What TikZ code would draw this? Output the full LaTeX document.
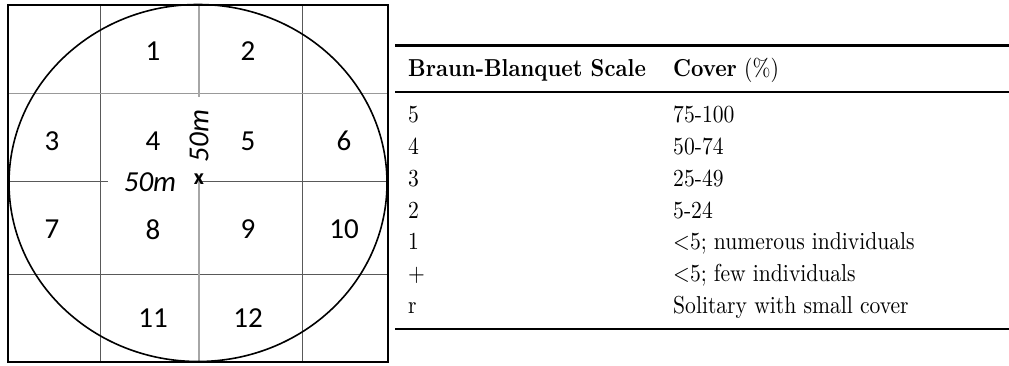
\documentclass[tikz,border=0pt]{standalone}
\usepackage{fontspec}
\newfontfamily\calfont{Carlito}
\usepackage{graphicx}
\newcommand{\tb}[1]{\scalebox{2.16}[2.45]{#1}}
\begin{document}
\begin{tikzpicture}[x=1pt,y=1pt,
  gridline/.style={draw=black!65, line width=0.8pt},
  lightline/.style={draw=black!40, line width=0.9pt},
  midline/.style={draw=black!35, line width=1.6pt},
  num/.style={font=\calfont\fontsize{29}{32}\selectfont, inner sep=0pt},
  dist/.style={font=\calfont\itshape\fontsize{29}{32}\selectfont, inner sep=1pt},
  tab/.style={anchor=base west, inner sep=0pt, font=\fontsize{10}{12}\selectfont},
  heavyrule/.style={line width=2.8pt},
  lightrule/.style={line width=1.2pt},
  botrule/.style={line width=1.8pt}]
\useasboundingbox (0,0) rectangle (1009,365);

% ---------- plot diagram ----------
\draw[gridline] (100,3) -- (100,360);
\draw[gridline] (302,3) -- (302,360);
\draw[lightline] (8,272) -- (388,272);
\draw[gridline] (8,91) -- (388,91);
\draw[gridline] (8,184) -- (108,184);
\draw[gridline] (199,184) -- (388,184);
\draw[midline] (199,360) -- (199,268);
\draw[midline] (199,190) -- (199,3);

\draw[line width=1.6pt] (198,182) ellipse [x radius=189, y radius=178.5];

\draw[line width=2.2pt] (8,3) rectangle (388,360);

\node[num] (n1)  at (153,314) {1};
\node[num] (n2)  at (248,314) {2};
\node[num] (n3)  at (52,224)  {3};
\node[num] (n4)  at (153,224) {4};
\node[num] (n5)  at (248,224) {5};
\node[num] (n6)  at (344,224) {6};
\node[num] (n7)  at (52,135.5)  {7};
\node[num] (n8)  at (153,135.5) {8};
\node[num] (n9)  at (248,135.5) {9};
\node[num] (n10) at (344,135.5) {10};
\node[num] (n11) at (153,47)  {11};
\node[num] (n12) at (248,47)  {12};

\node[dist] (dh) at (150,183) {50m};
\node[dist, rotate=90] (dv) at (199,229) {50m};
\node[font=\calfont\bfseries\fontsize{22}{24}\selectfont, inner sep=0pt] (ctr) at (199,186) {x};

% ---------- table ----------
\draw[heavyrule] (395,319.5) -- (1009,319.5);
\draw[lightrule] (395,273) -- (1009,273);
\draw[botrule] (395,36) -- (1009,36);

\node[tab] (h1) at (408,288) {\tb{\bfseries Braun-Blanquet Scale}};
\node[tab] (h2) at (673,288) {\tb{\textbf{Cover} (\%)}};

\node[tab] (a1) at (408,242)   {\tb{5}};
\node[tab] (b1) at (673,242)   {\tb{75-100}};
\node[tab] (a2) at (408,210.3) {\tb{4}};
\node[tab] (b2) at (673,210.3) {\tb{50-74}};
\node[tab] (a3) at (408,178.6) {\tb{3}};
\node[tab] (b3) at (673,178.6) {\tb{25-49}};
\node[tab] (a4) at (408,147)   {\tb{2}};
\node[tab] (b4) at (673,147)   {\tb{5-24}};
\node[tab] (a5) at (408,115.2) {\tb{1}};
\node[tab] (b5) at (673,115.2) {\tb{$<$5; numerous individuals}};
\node[tab] (a6) at (408,83.5)  {\tb{$+$}};
\node[tab] (b6) at (673,83.5)  {\tb{$<$5; few individuals}};
\node[tab] (a7) at (408,51.8)  {\tb{r}};
\node[tab] (b7) at (673,51.8)  {\tb{Solitary with small cover}};
\end{tikzpicture}
\end{document}
